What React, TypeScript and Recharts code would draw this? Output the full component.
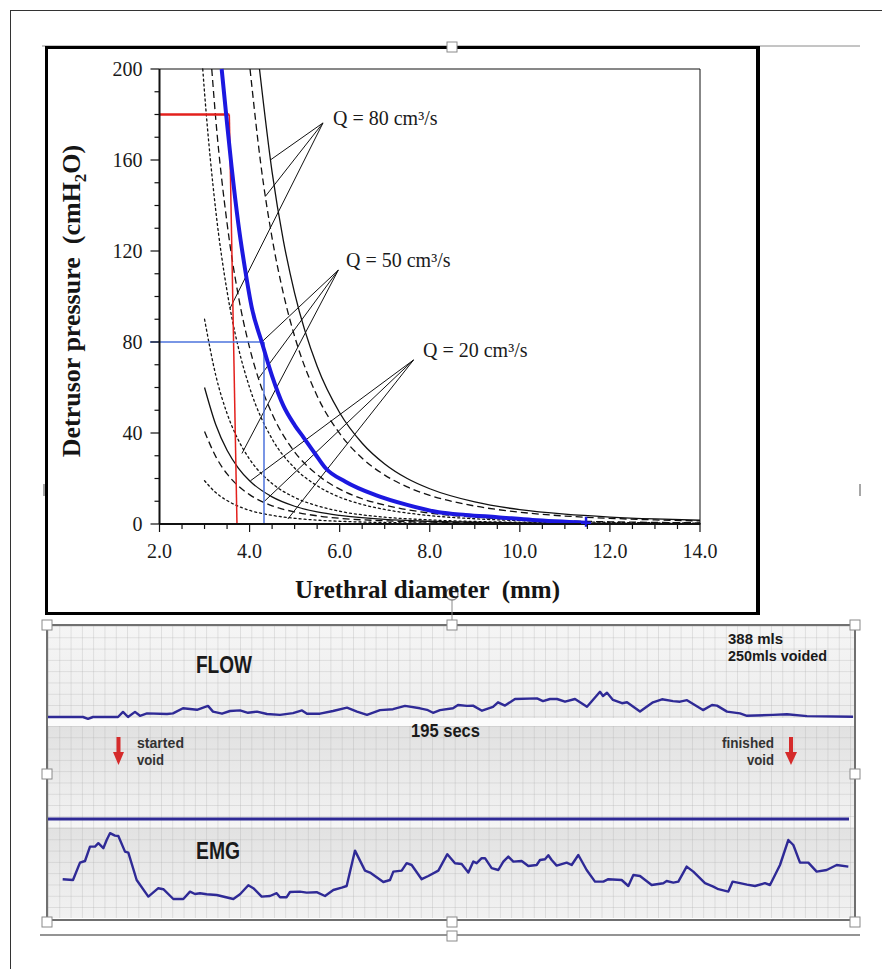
import { ComposedChart, Line, LineChart, ReferenceDot, ReferenceLine, XAxis, YAxis } from 'recharts';

// ---- top chart: detrusor pressure vs urethral diameter ----
const pressureTicks = [0, 10, 20, 30, 40, 50, 60, 70, 80, 90, 100, 110, 120, 130, 140, 150, 160, 170, 180, 190, 200];
const diameterTicks = [2, 2.5, 3, 3.5, 4, 4.5, 5, 5.5, 6, 6.5, 7, 7.5, 8, 8.5, 9, 9.5, 10, 10.5, 11, 11.5, 12, 12.5, 13, 13.5, 14];

// [diameter mm, pressure cmH2O]
const q20Dotted = [[3.0, 19], [3.25, 13.8], [3.5, 10.3], [3.75, 7.8], [4, 6], [4.5, 3.8], [5, 2.5], [5.5, 1.7], [6, 1.2], [7, 0.65], [8, 0.4], [10, 0.16], [12, 0.08], [14, 0.04]];
const q20Dashed = [[3.0, 40.7], [3.25, 29.6], [3.5, 22], [3.75, 16.7], [4, 12.9], [4.5, 8], [5, 5.3], [5.5, 3.6], [6, 2.5], [7, 1.4], [8, 0.8], [10, 0.33], [12, 0.16], [14, 0.09]];
const q20Solid = [[3.0, 60], [3.25, 43.6], [3.5, 32.4], [3.75, 24.6], [4, 19], [4.5, 11.9], [5, 7.8], [5.5, 5.3], [6, 3.75], [7, 2], [8, 1.2], [10, 0.49], [12, 0.23], [14, 0.13]];
const q50Dotted = [[3.0, 90], [3.25, 65.3], [3.5, 48.6], [3.75, 36.9], [4, 28.5], [4.5, 17.8], [5, 11.7], [5.5, 8], [6, 5.6], [7, 3], [8, 1.8], [10, 0.73], [12, 0.35], [14, 0.19]];
const q50Dashed = [[3.16, 200], [3.25, 177.8], [3.5, 132.2], [3.75, 100.3], [4, 77.5], [4.25, 60.8], [4.5, 48.4], [5, 31.7], [5.5, 21.7], [6, 15.3], [6.5, 11.1], [7, 8.3], [8, 4.8], [9, 3.0], [10, 2.0], [11, 1.36], [12, 0.96], [13, 0.69], [14, 0.52]];
const q80Dotted = [[2.96, 200], [3.0, 189.6], [3.25, 137.6], [3.5, 102.3], [3.75, 77.6], [4, 60], [4.5, 37.4], [5, 24.6], [5.5, 16.8], [6, 11.8], [6.5, 8.6], [7, 6.4], [8, 3.7], [9, 2.3], [10, 1.5], [12, 0.74], [14, 0.4]];
const q80Dashed = [[4.01, 200], [4.25, 158], [4.5, 125.7], [4.75, 101.3], [5, 82.5], [5.5, 56.3], [6, 39.8], [6.5, 28.9], [7, 21.5], [7.5, 16.3], [8, 12.6], [9, 7.9], [10, 5.2], [11, 3.5], [12, 2.5], [13, 1.8], [14, 1.34]];
const q80Solid = [[4.22, 200], [4.5, 154.7], [4.75, 124.6], [5, 101.5], [5.5, 69.3], [6, 48.9], [6.5, 35.5], [7, 26.4], [7.5, 20], [8, 15.5], [9, 9.7], [10, 6.3], [11, 4.3], [12, 3.06], [13, 2.22], [14, 1.65]];
const patientCurve = [[3.38, 200], [3.5, 176], [3.6, 157], [3.75, 132], [3.9, 112], [4.05, 95], [4.27, 80], [4.5, 65], [4.75, 52], [5.0, 43.5], [5.2, 38], [5.45, 31], [5.69, 24.5], [6.13, 18.6], [6.8, 12.7], [7.5, 8.4], [8.2, 5.2], [8.8, 4.0], [9.5, 3.0], [10.28, 1.8], [11.47, 0.6]];

// leader lines: label anchor -> point on curve
const q80Leaders = { from: [5.63, 176.3], to: [[4.46, 160], [4.35, 144], [3.57, 95]] };
const q50Leaders = { from: [5.97, 111.6], to: [[4.27, 80], [4.2, 64], [3.83, 31]] };
const q20Leaders = { from: [7.64, 72.1], to: [[4.02, 19], [4.33, 10], [4.85, 2.2]] };

// ---- bottom chart: flow and EMG traces (seconds) ----
const flowTrace = [[0, 0], [10.8, 0], [12.3, -0.6], [13.8, 0], [21.3, 0], [22.8, 1.7], [24.3, 0], [26.4, 1.7], [27.9, 0.4], [30, 1.2], [36, 1.0], [37.8, 1.2], [40.8, 2.9], [45, 2.4], [48.3, 3.7], [49.8, 1.8], [52.5, 1.1], [54.9, 2.0], [57.9, 2.2], [60.3, 1.4], [63, 1.8], [66, 1.0], [69.9, 0.7], [73.8, 1.3], [76.5, 2.2], [78, 1.1], [81.9, 1.1], [85.8, 2.0], [90, 3.1], [93, 1.8], [96, 0.7], [99.9, 2.3], [103.8, 2.6], [107.4, 3.7], [111.9, 2.9], [114, 2.4], [115.8, 1.4], [117.9, 2.3], [121.8, 2.9], [123.3, 4.0], [126, 3.7], [127.8, 3.8], [130.5, 2.1], [133.8, 3.4], [135.3, 4.9], [137.4, 3.8], [140.4, 6.0], [147, 6.2], [148.8, 5.3], [150.9, 6.0], [153, 6.0], [155.4, 5.1], [158.4, 6.0], [162, 3.4], [165.9, 8.4], [166.8, 7.0], [168, 8.1], [169.8, 5.7], [172.5, 4.6], [174, 4.9], [177.9, 1.8], [181.8, 4.9], [184.5, 5.9], [187.8, 5.3], [189.9, 5.1], [192, 5.6], [196.8, 2.3], [199.5, 4.0], [201, 3.8], [204, 1.8], [207.9, 1.2], [210, 0.4], [217.8, 0.7], [222, 0.9], [228, 0.3], [241.8, 0.1]];
const emgTrace = [[4.7, 19.4], [7.8, 19], [9.9, 27.7], [11.4, 28.5], [12.9, 35.7], [14.4, 35.7], [15.4, 37.4], [16.9, 34.9], [17.9, 39], [18.9, 42.4], [20.4, 41.2], [21.4, 41], [23.4, 33.2], [24.4, 32.7], [26.9, 19], [30.4, 10.7], [33.4, 14.9], [34.9, 14.4], [37.9, 9.5], [40.9, 9.5], [42.9, 13.2], [44.4, 12], [45.9, 12.4], [47.9, 11.9], [50.9, 11.5], [55.9, 9.5], [57.9, 11.9], [60.4, 16.4], [61.9, 14.9], [64.4, 10.7], [66.9, 11], [68.9, 12.4], [69.9, 10.4], [71.9, 10.4], [72.9, 13], [75.9, 13.2], [77.9, 12.7], [80.9, 12.9], [83.4, 11], [85.9, 14], [88.4, 15.2], [89.9, 16], [92.4, 33.7], [95.4, 23.7], [96.9, 22.7], [100.9, 18], [102.9, 19], [103.9, 23.2], [106.4, 23.7], [107.9, 27.4], [109.4, 26.5], [112.4, 19.4], [114.4, 21], [117.4, 23.7], [120.1, 31.9], [122.4, 27.4], [124.4, 27], [126.4, 22.7], [127.9, 28.2], [128.9, 27.4], [130.4, 29.9], [131.4, 29.9], [133.4, 24.9], [135.4, 24], [136.9, 28.2], [138.4, 30.7], [139.9, 28.2], [142.4, 28.5], [144.4, 26], [146.9, 26.5], [147.9, 29], [149.4, 29.4], [150.4, 31.4], [151.4, 29], [152.9, 26.2], [155.9, 27.7], [157.4, 26.5], [159.4, 31.5], [161.9, 24], [164.4, 18.2], [166.9, 18.2], [168.4, 19.4], [172.4, 19], [174.4, 16], [175.9, 21.5], [177.9, 21], [181.4, 16.5], [184.9, 17.4], [185.9, 18.5], [187.9, 17.7], [189.4, 18.2], [191.9, 25.7], [193.9, 23.2], [197.4, 17.4], [199.9, 15.7], [201.4, 14.4], [204.4, 13.2], [205.7, 18.2], [207.9, 17.4], [210, 16.7], [212.4, 16], [215.4, 17.4], [216.9, 16.5], [219.9, 26.5], [222.4, 39], [223.9, 36.5], [225.9, 27.7], [228.4, 27.7], [230.9, 23.2], [233.9, 24], [236.9, 26.5], [240.4, 25.7]];
const emgBaseline = 49.5;

const SERIF = "'Liberation Serif', 'Times New Roman', serif";
const SANS = "'Liberation Sans', Arial, sans-serif";
const INK = '#111';
const TRACE = '#2f2a96';

const pts = (a: number[][]) => a.map(([d, p]) => ({ d, p }));
const tv = (a: number[][]) => a.map(([t, v]) => ({ t, v }));

function PressureTick({ x, y, payload }: any) {
  const major = payload.value % 40 === 0;
  return (
    <g>
      <line x1={x} x2={x - (major ? 9 : 5)} y1={y} y2={y} stroke={INK} strokeWidth={1.2} />
      {major && (
        <text x={x - 17} y={y + 7} textAnchor="end" fontFamily={SERIF} fontSize={20} fill="#1a1a1a">
          {payload.value}
        </text>
      )}
    </g>
  );
}

function DiameterTick({ x, y, payload }: any) {
  const major = payload.value % 2 === 0;
  return (
    <g>
      <line x1={x} x2={x} y1={y} y2={y + (major ? 8 : 5)} stroke={INK} strokeWidth={1.2} />
      {major && (
        <text x={x} y={y + 34} textAnchor="middle" fontFamily={SERIF} fontSize={20} fill="#1a1a1a">
          {payload.value.toFixed(1)}
        </text>
      )}
    </g>
  );
}

const curve = (data: number[][], dash?: string, w = 1.3) => (
  <Line
    data={pts(data)}
    dataKey="p"
    type="monotone"
    stroke={INK}
    strokeWidth={w}
    strokeDasharray={dash}
    strokeLinecap={dash === '2 3' ? 'round' : 'butt'}
    dot={false}
    isAnimationActive={false}
  />
);

const leaders = (g: { from: number[]; to: number[][] }) =>
  g.to.map(([d, p], i) => (
    <ReferenceLine
      key={i}
      segment={[{ x: g.from[0], y: g.from[1] }, { x: d, y: p }]}
      stroke={INK}
      strokeWidth={1}
      ifOverflow="visible"
    />
  ));

function PressureChart() {
  return (
    <LineChart
      width={715}
      height={569}
      margin={{ top: 23, right: 60, bottom: 51, left: 0 }}
      style={{ position: 'absolute', left: 45, top: 46 }}
    >
      <XAxis
        type="number"
        dataKey="d"
        domain={[2, 14]}
        ticks={diameterTicks}
        interval={0}
        tick={<DiameterTick />}
        tickSize={0}
        tickMargin={0}
        height={40}
        axisLine={{ stroke: INK, strokeWidth: 2 }}
      />
      <YAxis
        type="number"
        domain={[0, 200]}
        ticks={pressureTicks}
        interval={0}
        tick={<PressureTick />}
        tickSize={0}
        tickMargin={0}
        width={114.5}
        axisLine={{ stroke: INK, strokeWidth: 2 }}
      />
      <ReferenceLine y={200} stroke={INK} strokeWidth={1} />
      <ReferenceLine x={14} stroke={INK} strokeWidth={1} />
      {curve(q20Dotted, '2 3')}
      {curve(q20Dashed, '7 4')}
      {curve(q20Solid)}
      {curve(q50Dotted, '2 3')}
      {curve(q50Dashed, '7 4')}
      {curve(q80Dotted, '2 3')}
      {curve(q80Dashed, '7 4')}
      {curve(q80Solid)}
      {leaders(q80Leaders)}
      {leaders(q50Leaders)}
      {leaders(q20Leaders)}
      <ReferenceLine segment={[{ x: 2, y: 180 }, { x: 3.55, y: 180 }]} stroke="#e3201d" strokeWidth={2.5} ifOverflow="visible" />
      <ReferenceLine segment={[{ x: 3.55, y: 180 }, { x: 3.72, y: 0 }]} stroke="#e3201d" strokeWidth={1.5} ifOverflow="visible" />
      <ReferenceLine segment={[{ x: 1.79, y: 80 }, { x: 4.3, y: 80 }]} stroke="#4d73dc" strokeWidth={1.5} ifOverflow="visible" />
      <ReferenceLine segment={[{ x: 4.32, y: 80 }, { x: 4.32, y: 0 }]} stroke="#4d73dc" strokeWidth={1.5} ifOverflow="visible" />
      <Line
        data={pts(patientCurve)}
        dataKey="p"
        type="monotone"
        stroke="#1c18e0"
        strokeWidth={4}
        dot={false}
        isAnimationActive={false}
      />
      <ReferenceDot
        x={11.47}
        y={0.6}
        ifOverflow="visible"
        shape={(p: any) => (
          <path d={`M${p.cx - 5},${p.cy}H${p.cx + 5}M${p.cx},${p.cy - 6}V${p.cy + 4}`} stroke="#1c18e0" strokeWidth={2.5} />
        )}
      />
    </LineChart>
  );
}

function TraceChart() {
  return (
    <ComposedChart
      width={806}
      height={291}
      margin={{ top: 0, right: 0, bottom: 0, left: 0 }}
      style={{ position: 'absolute', left: 47, top: 627 }}
    >
      <XAxis type="number" dataKey="t" domain={[0, 241.8]} hide />
      <YAxis yAxisId="f" type="number" domain={[-67, 30]} hide />
      <YAxis yAxisId="e" type="number" domain={[0, 145.5]} hide />
      <ReferenceLine
        yAxisId="e"
        segment={[{ x: 0, y: emgBaseline }, { x: 240.6, y: emgBaseline }]}
        stroke={TRACE}
        strokeWidth={3}
      />
      <Line yAxisId="f" data={tv(flowTrace)} dataKey="v" type="linear" stroke={TRACE} strokeWidth={2.4} strokeLinejoin="round" dot={false} isAnimationActive={false} />
      <Line yAxisId="e" data={tv(emgTrace)} dataKey="v" type="linear" stroke={TRACE} strokeWidth={2.4} strokeLinejoin="round" dot={false} isAnimationActive={false} />
    </ComposedChart>
  );
}

const gridBg = (c1: string, c2: string) => ({
  backgroundImage: `linear-gradient(rgba(170,170,170,0.3) 1px, transparent 1px), linear-gradient(90deg, rgba(170,170,170,0.3) 1px, transparent 1px), linear-gradient(${c1}, ${c2})`,
  backgroundSize: '11.3px 11.3px, 11.3px 11.3px, 100% 100%',
});

const box = (left: number, top: number, width: number, height: number, extra: object) => (
  <div style={{ position: 'absolute', left, top, width, height, ...extra }} />
);

const handle = (cx: number, cy: number, k: string) => (
  <rect key={k} x={cx - 5} y={cy - 5} width={10} height={10} fill="#fff" stroke="#8a8a8a" strokeWidth={1} />
);

// condensed bold label, squeezed to the measured width
const narrow = (x: number, y: number, size: number, len: number, s: string, anchor: 'start' | 'end' = 'start') => (
  <text
    x={anchor === 'end' ? x - len : x}
    y={y}
    fontSize={size}
    textLength={len}
    lengthAdjust="spacingAndGlyphs"
  >
    {s}
  </text>
);

export default function App() {
  const handles = [
    [452, 47], [47, 625], [452, 625], [855, 625], [47, 774], [855, 774], [47, 922], [452, 922], [855, 922], [452, 936],
  ];
  return (
    <div style={{ position: 'absolute', left: 0, top: 0, width: 882, height: 969, background: '#fff', overflow: 'hidden' }}>
      {/* bottom panel backgrounds */}
      {box(48, 626, 806, 92, gridBg('#f5f5f5', '#ededed'))}
      {box(48, 718, 806, 8, { background: '#fbfbfb' })}
      {box(48, 726, 806, 90, gridBg('#e1e1e1', '#f1f1f1'))}
      {box(48, 816, 806, 12, gridBg('#f3f3f3', '#f6f6f6'))}
      {box(48, 828, 806, 90, gridBg('#e2e2e2', '#f2f2f2'))}

      <PressureChart />
      <TraceChart />

      <svg width={882} height={969} style={{ position: 'absolute', left: 0, top: 0, pointerEvents: 'none' }}>
        {/* page border */}
        <line x1={10} y1={10.5} x2={882} y2={10.5} stroke="#333" strokeWidth={1} />
        <line x1={10.5} y1={10} x2={10.5} y2={969} stroke="#333" strokeWidth={1} />

        {/* top figure frame */}
        <line x1={42} y1={46} x2={860} y2={46} stroke="#8a8a8a" strokeWidth={1} />
        <rect x={46.5} y={47.5} width={711} height={566} fill="none" stroke="#000" strokeWidth={3} />
        <line x1={758} y1={46} x2={758} y2={615} stroke="#000" strokeWidth={4} />
        <line x1={860} y1={484} x2={860} y2={496} stroke="#8a8a8a" strokeWidth={1.5} />
        <line x1={44} y1={484} x2={44} y2={496} stroke="#8a8a8a" strokeWidth={1.5} />

        {/* bottom panel frame */}
        <rect x={47} y={625} width={808} height={295} fill="none" stroke="#707070" strokeWidth={2} />
        <line x1={40} y1={935} x2={860} y2={935} stroke="#707070" strokeWidth={1.5} />
        <line x1={452} y1={600} x2={452} y2={620} stroke="#8a8a8a" strokeWidth={1} />
        <circle cx={452} cy={594} r={6} fill="#fff" stroke="#8a8a8a" strokeWidth={1.5} />
        {handles.map(([x, y], i) => handle(x, y, `h${i}`))}

        {/* axis titles & curve labels */}
        <text
          x={80}
          y={301}
          transform="rotate(-90 80 301)"
          textAnchor="middle"
          fontFamily={SERIF}
          fontWeight="bold"
          fontSize={26}
          fill="#151515"
          style={{ whiteSpace: 'pre' }}
        >
          {'Detrusor pressure  (cmH'}
          <tspan fontSize={17} dy={6}>2</tspan>
          <tspan dy={-6}>{'O)'}</tspan>
        </text>
        <text x={295} y={598} fontFamily={SERIF} fontWeight="bold" fontSize={25} fill="#151515" style={{ whiteSpace: 'pre' }}>
          {'Urethral diameter  (mm)'}
        </text>
        <text x={333} y={125} fontFamily={SERIF} fontSize={20} fill="#1a1a1a">Q = 80 cm³/s</text>
        <text x={346} y={267} fontFamily={SERIF} fontSize={20} fill="#1a1a1a">Q = 50 cm³/s</text>
        <text x={423} y={357} fontFamily={SERIF} fontSize={20} fill="#1a1a1a">Q = 20 cm³/s</text>

        {/* trace annotations */}
        <g fontFamily={SANS} fontWeight="bold" fill="#1a1a1a">
          {narrow(196, 673, 24, 56, 'FLOW')}
          {narrow(196, 859, 24, 44, 'EMG')}
          {narrow(411, 737, 19, 69, '195 secs')}
          {narrow(728, 644, 15, 55, '388 mls')}
          {narrow(728, 661, 15, 99, '250mls voided')}
        </g>
        <g fontFamily={SANS} fontWeight="bold" fontSize={15} fill="#333">
          {narrow(137, 748, 15, 47, 'started')}
          {narrow(137, 765, 15, 27, 'void')}
          {narrow(774, 748, 15, 52, 'finished', 'end')}
          {narrow(774, 765, 15, 27, 'void', 'end')}
        </g>
        <g fill="#d52b2b">
          <rect x={116.5} y={737} width={4} height={16} />
          <polygon points="113,752 124,752 118.5,765" />
          <rect x={789} y={737} width={4} height={16} />
          <polygon points="785,752 797,752 791,765" />
        </g>
      </svg>
    </div>
  );
}
